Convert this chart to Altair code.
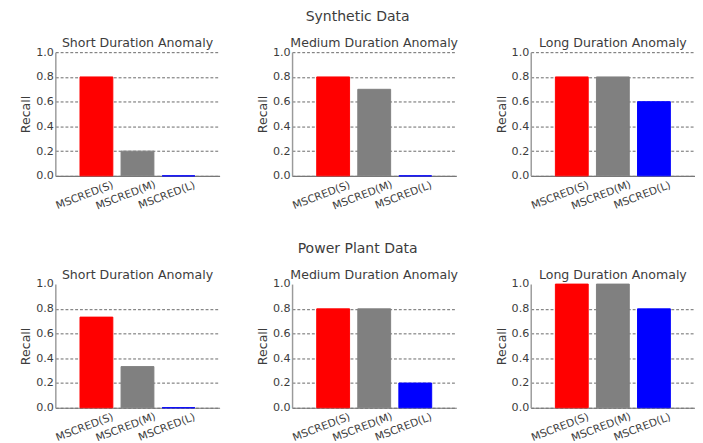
import altair as alt
import pandas as pd

methods = ["MSCRED(S)", "MSCRED(M)", "MSCRED(L)"]
bar_colors = ["#ff0000", "#808080", "#0000ff"]
panel_titles = ["Short Duration Anomaly", "Medium Duration Anomaly", "Long Duration Anomaly"]

synthetic_short = [0.8, 0.2, 0.0]
synthetic_medium = [0.8, 0.7, 0.0]
synthetic_long = [0.8, 0.8, 0.6]

power_short = [0.733, 0.333, 0.0]
power_medium = [0.8, 0.8, 0.2]
power_long = [1.0, 1.0, 0.8]

y_ticks = [0.0, 0.2, 0.4, 0.6, 0.8, 1.0]

FONT = "DejaVu Sans"
TEXT = "#3c3c3c"


def panel(values, title, hide_top_grid):
    df = pd.DataFrame({"method": methods, "recall": values})
    grid_opacity = (
        {"condition": {"test": "datum.value >= 0.99", "value": 0}, "value": 0.85}
        if hide_top_grid
        else 0.85
    )
    return (
        alt.Chart(df, title=alt.TitleParams(title, fontSize=13, font=FONT,
                                             fontWeight="normal", color=TEXT,
                                             offset=-4, anchor="middle"))
        .mark_bar(strokeWidth=1)
        .encode(
            x=alt.X("method:N", sort=methods,
                    scale=alt.Scale(paddingInner=0.2, paddingOuter=0.6),
                    axis=alt.Axis(title=None, labelAngle=-21, labelAlign="center",
                                  labelBaseline="middle", labelPadding=20,
                                  labelOffset=-12, ticks=False, labelFontSize=11,
                                  labelFont=FONT, labelColor=TEXT,
                                  domainColor="#777777", domainWidth=1.2,
                                  grid=False)),
            y=alt.Y("recall:Q", scale=alt.Scale(domain=[0, 1], nice=False),
                    axis=alt.Axis(title="Recall", values=y_ticks, format=".1f",
                                  labelFontSize=11.5, labelFont=FONT, labelColor=TEXT,
                                  labelPadding=2, ticks=False,
                                  titleFontSize=13, titleFont=FONT,
                                  titleFontWeight="normal", titleColor=TEXT,
                                  titlePadding=3, domainColor="#9a9a9a",
                                  domainWidth=1.5, grid=True, gridColor="#4a4a4a",
                                  gridDash=[3, 2], gridWidth=1,
                                  gridOpacity=grid_opacity)),
            color=alt.Color("method:N", scale=alt.Scale(domain=methods, range=bar_colors),
                            legend=None),
            stroke=alt.Color("method:N", scale=alt.Scale(domain=methods, range=bar_colors),
                             legend=None),
        )
        .properties(width=170, height=128)
    )


row1 = alt.hconcat(
    panel(synthetic_short, panel_titles[0], False),
    panel(synthetic_medium, panel_titles[1], False),
    panel(synthetic_long, panel_titles[2], False),
    spacing=38,
    title=alt.TitleParams("Synthetic Data", fontSize=14.5, font=FONT, fontWeight="normal",
                          color=TEXT, anchor="middle", offset=14),
)
row2 = alt.hconcat(
    panel(power_short, panel_titles[0], True),
    panel(power_medium, panel_titles[1], True),
    panel(power_long, panel_titles[2], True),
    spacing=38,
    title=alt.TitleParams("Power Plant Data", fontSize=14.5, font=FONT, fontWeight="normal",
                          color=TEXT, anchor="middle", offset=14),
)

chart = (
    alt.vconcat(row1, row2, spacing=30)
    .properties(padding={"left": 12, "top": -7, "right": 0, "bottom": 0})
    .configure_view(strokeWidth=0)
    .configure_concat(spacing=38)
)

chart.save("out.html", embed_options={"renderer": "svg", "actions": False})
